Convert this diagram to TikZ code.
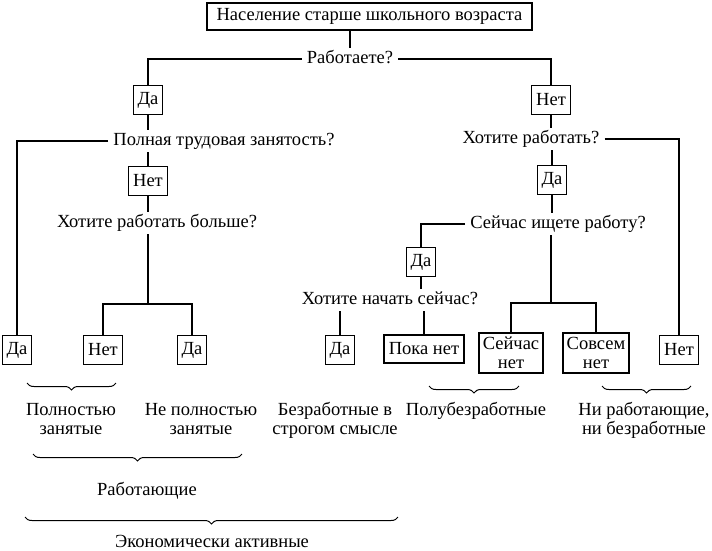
\documentclass[tikz,border=0pt]{standalone}
\usepackage{fontspec}
\setmainfont{Liberation Serif}
\usetikzlibrary{decorations.pathreplacing}

\tikzset{
  qtext/.style={inner xsep=5pt, inner ysep=3pt, text height=12pt, text depth=4pt},
  ans/.style={draw, line width=1.1pt, minimum height=29pt, minimum width=29pt, inner sep=3pt, align=center},
  grp/.style={align=center, anchor=base},
  link/.style={line width=1.6pt},
  brc/.style={decorate, decoration={brace, mirror, amplitude=7pt}, line width=1pt}
}

\begin{document}
\begin{tikzpicture}[x=1pt, y=-1pt, font=\fontsize{18.5}{19}\selectfont]
    \useasboundingbox (0,0) rectangle (712,550);

    % top of the tree
    \node[ans, minimum width=325pt, minimum height=27pt] (pop) at (369.5,16.5) {Население старше школьного возраста};
    \node[qtext] (qWork) at (350,59) {Работаете?};
    \node[ans] (yesWork) at (148,100) {Да};
    \node[ans, minimum width=39pt] (noWork) at (551,100) {Нет};

    % left branch
    \node[qtext] (qFull) at (224,141) {Полная трудовая занятость?};
    \node[ans] (yesFull) at (17,350) {Да};
    \node[ans, minimum width=39pt] (noFull) at (148,181) {Нет};
    \node[qtext] (qMore) at (157,223) {Хотите работать больше?};
    \coordinate (forkL) at (148,304);
    \node[ans, minimum width=39pt] (noMore) at (103,350) {Нет};
    \node[ans] (yesMore) at (192,350) {Да};

    % right branch
    \node[qtext] (qWant) at (531,139) {Хотите работать?};
    \node[ans] (yesWant) at (552,180) {Да};
    \node[ans, minimum width=39pt] (noWant) at (679,350) {Нет};
    \node[qtext] (qSeek) at (558,224) {Сейчас ищете работу?};
    \node[ans] (yesSeek) at (421,262) {Да};
    \node[qtext] (qStart) at (390,300) {Хотите начать сейчас?};
    \node[ans] (yesStart) at (340,350) {Да};
    \node[ans, minimum width=80pt, minimum height=28pt] (notYet) at (424,349) {Пока нет};
    \coordinate (forkR) at (551,303);
    \node[ans, minimum width=64pt, minimum height=40pt, inner ysep=1pt] (nowNo) at (511,353) {Сейчас\\нет};
    \node[ans, minimum width=66pt, minimum height=40pt, inner ysep=1pt] (neverNo) at (596,353) {Совсем\\нет};

    % connectors
    \draw[link] (qWork.north) -- (qWork.north |- pop.south);
    \draw[link] (qWork.west) -| (yesWork.north);
    \draw[link] (qWork.east) -| (noWork.north);
    \draw[link] (yesWork.south) -- (yesWork.south |- qFull.north);
    \draw[link] (qFull.west) -| (yesFull.north);
    \draw[link] (qFull.south -| noFull) -- (noFull.north);
    \draw[link] (noFull.south) -- (noFull.south |- qMore.north);
    \draw[link] (qMore.south -| forkL) -- (forkL);
    \draw[link] (noMore.north) |- (forkL) -| (yesMore.north);
    \draw[link] (noWork.south) -- (noWork.south |- qWant.north);
    \draw[link] (qWant.east) -| (noWant.north);
    \draw[link] (qWant.south -| yesWant) -- (yesWant.north);
    \draw[link] (yesWant.south) -- (yesWant.south |- qSeek.north);
    \draw[link] (qSeek.west) -| (yesSeek.north);
    \draw[link] (yesSeek.south) -- (yesSeek.south |- qStart.north);
    \draw[link] (qStart.south -| yesStart) -- (yesStart.north);
    \draw[link] (qStart.south -| notYet) -- (notYet.north);
    \draw[link] (qSeek.south -| forkR) -- (forkR);
    \draw[link] (nowNo.north) |- (forkR) -| (neverNo.north);

    % groups
    \draw[brc] (27,383) -- (116,383);
    \draw[brc] (429,386) -- (519,386);
    \draw[brc] (602,386) -- (691,386);
    \node[grp] (gFull) at (71,434) {Полностью\\занятые};
    \node[grp] (gPart) at (201,434) {Не полностью\\занятые};
    \node[grp] (gStrict) at (335,434) {Безработные в\\строгом смысле};
    \node[grp] (gSemi) at (476,415) {Полубезработные};
    \node[grp] (gNeither) at (644,434) {Ни работающие,\\ни безработные};
    \draw[brc] (33,454) -- (242,454);
    \node[grp] (gWorking) at (147,495) {Работающие};
    \draw[brc] (25,517) -- (398,517);
    \node[grp] (gActive) at (212,547) {Экономически активные};
\end{tikzpicture}
\end{document}
